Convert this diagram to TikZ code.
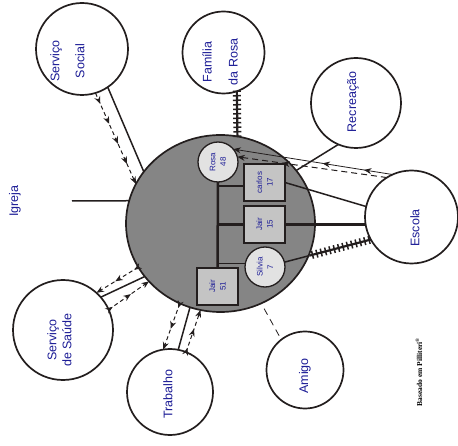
\documentclass[tikz,border=0pt]{standalone}
\usepackage{fontspec}
\setmainfont{Liberation Sans}
\newfontfamily\notefont{Liberation Serif}
\usetikzlibrary{shapes.geometric,arrows.meta,decorations.markings,positioning,calc}

\definecolor{namecol}{RGB}{28,28,150}
\definecolor{famgray}{RGB}{133,133,133}
\definecolor{boxgray}{RGB}{196,196,196}
\definecolor{headgray}{RGB}{226,226,226}
\definecolor{edge}{RGB}{35,30,30}

\tikzset{
  household/.style={ellipse, draw=edge, line width=1.7pt, fill=famgray,
    minimum width=189pt, minimum height=177pt, inner sep=0pt, outer sep=0pt},
  place/.style={circle, draw=edge, line width=1.7pt, fill=white,
    minimum size=#1, inner sep=0pt, outer sep=0pt},
  member/.style={rectangle, draw=edge, line width=2.4pt, fill=boxgray,
    minimum width=41pt, minimum height=37pt, inner sep=0pt, outer sep=0pt},
  kin/.style={circle, draw=edge, line width=1.3pt, fill=headgray,
    minimum size=40pt, inner sep=0pt, outer sep=0pt},
  tag/.style={rotate=90, align=center, text=namecol, inner sep=0pt,
    font=\fontsize{12.5}{#1}\selectfont},
  who/.style={rotate=90, align=center, text=namecol, inner sep=0pt,
    font=\fontsize{8}{10.5}\selectfont},
  link/.style={draw=edge, line width=1.5pt},
  strong/.style={draw=edge, line width=2.5pt},
  arrowsat/.style={postaction={decorate, decoration={markings,
    mark=between positions #1 with {\arrow{Stealth[length=7.5pt,width=6pt]}}}}},
  flow/.style={draw=edge, line width=1pt, dash pattern=on 4pt off 3pt,
    -{Stealth[length=7.5pt,width=6pt]}, arrowsat=#1},
  hatch/.style={draw=edge, line width=2.2pt, postaction={decorate, decoration={markings,
    mark=between positions #1 step 4.5pt with {\draw[line width=1.5pt] (0pt,-4pt) -- (0pt,4pt);}}}}
}

\begin{document}
\begin{tikzpicture}[x=1pt, y=-1pt]
  \useasboundingbox (0,0) rectangle (458,446);

  % the household
  \node[household] (home) at (220.5,223.5) {};

  % systems around it
  \node[place=92pt] (social) at (82,49) {};
  \node[place=82pt] (relatives) at (223.5,52.5) {};
  \node[place=90pt] (leisure) at (356,103) {};
  \node[place=93pt] (school) at (411.5,217) {};
  \node[place=100pt] (health) at (63,330) {};
  \node[place=86pt] (work) at (170,392) {};
  \node[place=77pt] (friend) at (305,370) {};

  \node[tag=25pt] (social-t) at (67.5,61) {Serviço\\Social};
  \node[tag=26pt] (relatives-t) at (220,62) {Família\\da Rosa};
  \node[tag=15pt] (leisure-t) at (353,102) {Recreação};
  \node[tag=15pt] (school-t) at (415,228) {Escola};
  \node[tag=15pt] (health-t) at (59.5,340) {Serviço\\de Saúde};
  \node[tag=15pt] (work-t) at (168,394) {Trabalho};
  \node[tag=15pt] (friend-t) at (305,376) {Amigo};
  \node[tag=15pt] (church) at (15,201) {Igreja};

  % family members
  \node[kin] (rosa) at (218,162) {};
  \node[member] (carlos) at (264.5,182.5) {};
  \node[member] (jair15) at (264.5,224.5) {};
  \node[kin] (silvia) at (265,267) {};
  \node[member] (jair51) at (217.5,286.5) {};

  \draw[strong] (rosa.south) -- (jair51.north);
  \draw[strong] (rosa.south |- carlos.190) -- (carlos.190);
  \draw[strong] (rosa.south |- jair15.west) -- (jair15.west);
  \draw[link] (rosa.south |- silvia.170) -- (silvia.170);

  \node[who] (rosa-t) at (rosa) {Rosa\\48};
  \node[who] (carlos-t) at (carlos) {carlos\\17};
  \node[who] (jair15-t) at (jair15) {Jair\\15};
  \node[who] (silvia-t) at (silvia) {Silvia\\7};
  \node[who] (jair51-t) at (jair51) {Jair\\51};

  % Igreja
  \coordinate (churchend) at (72,201);
  \draw[link] (churchend) -- (home.166);

  % Servico Social
  \draw[link] (social.-56) -- (home.146);
  \draw[flow={0.12 and 0.8 step 0.22}] (social.-73) -- (home.155);

  % Familia da Rosa
  \draw[hatch={0 and 1}] (relatives.-71) -- (home.79);

  % Recreacao
  \draw[link] (leisure.-113) -- (home.35);

  % Escola
  \draw[draw=edge, line width=0.8pt, -{Stealth[length=7.5pt,width=6pt]},
    arrowsat={0.18 and 0.5 step 0.26}] (school.114) -- (rosa.40);
  \draw[flow={0.7 and 0.8 step 0.5}, dash pattern=on 6pt off 4pt] (school.122) -- (rosa.15);
  \draw[link] (school.167) -- (carlos.east);
  \draw[strong] (jair15.east) -- (jair15.east -| school.west);
  \path (silvia.14) -- coordinate[pos=0.29] (cut) (school.209);
  \draw[link] (silvia.14) -- (cut);
  \draw[hatch={0.05 and 1}] (cut) -- (school.209);

  % Servico de Saude
  \draw[link] (health.41) -- (home.215);
  \draw[flow={0.1 and 0.6 step 0.45}] (home.208) -- (health.48);
  \draw[flow={0.1 and 0.6 step 0.45}] (health.24) -- (home.219);

  % Trabalho
  \draw[link] (home.250) -- (work.79);
  \draw[flow={0.1 and 0.6 step 0.45}] (home.243) -- (work.99);
  \draw[flow={0.1 and 0.6 step 0.45}] (work.68) -- (home.257);

  % Amigo
  \draw[draw=edge, line width=0.8pt, dash pattern=on 7pt off 5pt,
    shorten <=6pt, shorten >=4pt] (home.-63) -- (friend.128);

  \node[rotate=90, font=\notefont\bfseries\fontsize{7.5}{9}\selectfont] (source)
    at (419,372) {Baseado em Pilliteri\textsuperscript{\textregistered}};
\end{tikzpicture}
\end{document}
